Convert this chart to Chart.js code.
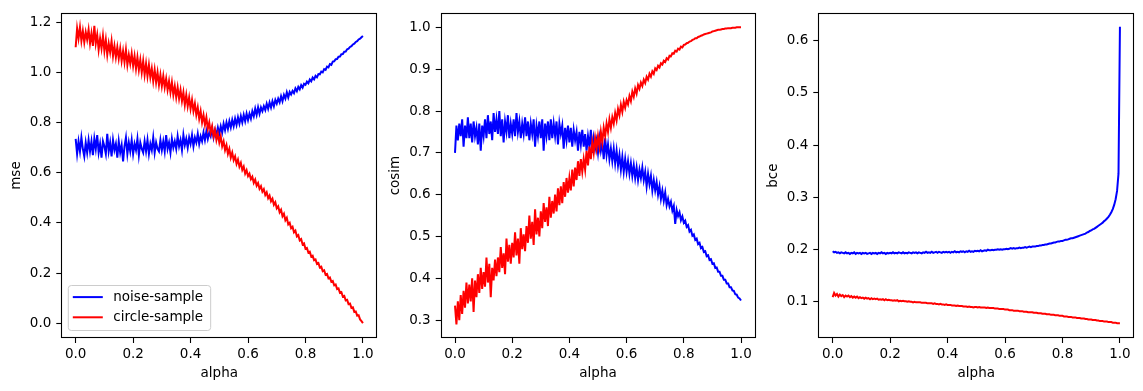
<!DOCTYPE html>
<html><head><meta charset="utf-8">
<script src="https://cdn.jsdelivr.net/npm/chart.js@4"></script>
<style>
body{margin:0;background:#fff;width:1143px;height:391px;overflow:hidden;position:relative}
canvas{position:absolute;top:0}
</style></head><body>
<canvas id="c1" width="385" height="391" style="left:0px"></canvas>
<canvas id="c2" width="375" height="391" style="left:385px"></canvas>
<canvas id="c3" width="383" height="391" style="left:760px"></canvas>
<script>
const alpha = [
0,0.005,0.01,0.015,0.02,0.025,0.03,0.035,0.04,0.045,
0.05,0.055,0.06,0.065,0.07,0.075,0.08,0.085,0.09,0.095,
0.1,0.105,0.11,0.115,0.12,0.125,0.13,0.135,0.14,0.145,
0.15,0.155,0.16,0.165,0.17,0.175,0.18,0.185,0.19,0.195,
0.2,0.205,0.21,0.215,0.22,0.225,0.23,0.235,0.24,0.245,
0.25,0.255,0.26,0.265,0.27,0.275,0.28,0.285,0.29,0.295,
0.3,0.305,0.31,0.315,0.32,0.325,0.33,0.335,0.34,0.345,
0.35,0.355,0.36,0.365,0.37,0.375,0.38,0.385,0.39,0.395,
0.4,0.405,0.41,0.415,0.42,0.425,0.43,0.435,0.44,0.445,
0.45,0.455,0.46,0.465,0.47,0.475,0.48,0.485,0.49,0.495,
0.5,0.505,0.51,0.515,0.52,0.525,0.53,0.535,0.54,0.545,
0.55,0.555,0.56,0.565,0.57,0.575,0.58,0.585,0.59,0.595,
0.6,0.605,0.61,0.615,0.62,0.625,0.63,0.635,0.64,0.645,
0.65,0.655,0.66,0.665,0.67,0.675,0.68,0.685,0.69,0.695,
0.7,0.705,0.71,0.715,0.72,0.725,0.73,0.735,0.74,0.745,
0.75,0.755,0.76,0.765,0.77,0.775,0.78,0.785,0.79,0.795,
0.8,0.805,0.81,0.815,0.82,0.825,0.83,0.835,0.84,0.845,
0.85,0.855,0.86,0.865,0.87,0.875,0.88,0.885,0.89,0.895,
0.9,0.905,0.91,0.915,0.92,0.925,0.93,0.935,0.94,0.945,
0.95,0.955,0.96,0.965,0.97,0.975,0.98,0.985,0.99,0.995,
1];

const seriesLabels = ['noise-sample', 'circle-sample'];
const xTickValues = [0, 0.2, 0.4, 0.6, 0.8, 1.0];
const mseTickValues = [0, 0.2, 0.4, 0.6, 0.8, 1.0, 1.2];
const cosimTickValues = [0.3, 0.4, 0.5, 0.6, 0.7, 0.8, 0.9, 1.0];
const bceTickValues = [0.1, 0.2, 0.3, 0.4, 0.5, 0.6];

// panel 1: mse
const mseNoise = [
0.735,0.675,0.725,0.685,0.74,0.695,0.665,0.72,0.68,0.73,
0.685,0.725,0.67,0.735,0.695,0.75,0.68,0.715,0.66,0.725,
0.705,0.675,0.755,0.685,0.72,0.665,0.73,0.69,0.715,0.66,
0.725,0.68,0.71,0.645,0.705,0.74,0.675,0.72,0.685,0.73,
0.675,0.715,0.69,0.735,0.67,0.72,0.695,0.68,0.725,0.685,
0.73,0.675,0.715,0.69,0.74,0.68,0.72,0.695,0.685,0.73,
0.69,0.725,0.685,0.75,0.695,0.72,0.68,0.735,0.70,0.725,
0.695,0.745,0.705,0.73,0.69,0.75,0.71,0.735,0.70,0.74,
0.715,0.75,0.705,0.74,0.72,0.755,0.715,0.745,0.725,0.76,
0.73,0.765,0.735,0.76,0.745,0.775,0.74,0.77,0.75,0.78,
0.755,0.785,0.76,0.795,0.77,0.80,0.775,0.805,0.78,0.81,
0.785,0.815,0.79,0.82,0.795,0.825,0.80,0.83,0.805,0.835,
0.81,0.835,0.815,0.845,0.825,0.855,0.83,0.86,0.835,0.86,
0.845,0.865,0.85,0.875,0.855,0.88,0.86,0.885,0.865,0.89,
0.875,0.895,0.88,0.905,0.885,0.91,0.895,0.92,0.90,0.922,
0.912,0.926,0.917,0.936,0.925,0.942,0.932,0.949,0.939,0.954,
0.95,0.963,0.956,0.971,0.964,0.979,0.972,0.986,0.98,0.993,
0.992,1.003,1.0,1.013,1.01,1.023,1.02,1.033,1.03,1.043,
1.044,1.052,1.053,1.062,1.063,1.072,1.073,1.082,1.083,1.092,
1.094,1.101,1.104,1.111,1.114,1.121,1.124,1.131,1.134,1.14,
1.145];
const mseCircle = [
1.10,1.175,1.135,1.18,1.125,1.165,1.12,1.16,1.13,1.17,
1.115,1.155,1.105,1.185,1.115,1.15,1.09,1.135,1.095,1.145,
1.085,1.13,1.07,1.115,1.08,1.125,1.065,1.105,1.06,1.10,
1.055,1.095,1.045,1.085,1.04,1.09,1.03,1.07,1.035,1.075,
1.025,1.065,1.015,1.06,1.01,1.05,1.0,1.045,0.99,1.035,
0.985,1.03,0.98,1.015,0.965,1.01,0.96,1.0,0.95,0.99,
0.945,0.985,0.94,0.975,0.93,0.965,0.92,0.96,0.91,0.945,
0.90,0.94,0.895,0.93,0.885,0.92,0.87,0.91,0.865,0.90,
0.855,0.89,0.845,0.875,0.83,0.86,0.815,0.845,0.80,0.83,
0.79,0.82,0.775,0.80,0.76,0.785,0.745,0.77,0.73,0.755,
0.72,0.745,0.705,0.725,0.69,0.71,0.675,0.695,0.66,0.68,
0.65,0.665,0.635,0.652,0.624,0.639,0.611,0.624,0.596,0.61,
0.586,0.596,0.574,0.584,0.559,0.572,0.548,0.559,0.536,0.546,
0.524,0.534,0.511,0.522,0.498,0.509,0.486,0.496,0.472,0.482,
0.458,0.466,0.442,0.452,0.426,0.436,0.41,0.42,0.394,0.40,
0.378,0.384,0.362,0.369,0.346,0.351,0.33,0.335,0.314,0.318,
0.297,0.30,0.282,0.285,0.266,0.269,0.251,0.254,0.236,0.24,
0.222,0.225,0.207,0.211,0.193,0.196,0.179,0.182,0.165,0.168,
0.151,0.154,0.136,0.139,0.121,0.124,0.106,0.109,0.091,0.093,
0.076,0.078,0.061,0.063,0.045,0.047,0.03,0.032,0.015,0.008,
0.0];

// panel 2: cosim
const cosimNoise = [
0.70,0.765,0.73,0.77,0.74,0.78,0.715,0.765,0.735,0.785,
0.735,0.77,0.725,0.775,0.74,0.76,0.72,0.77,0.705,0.765,
0.74,0.78,0.735,0.79,0.745,0.775,0.73,0.795,0.75,0.78,
0.745,0.80,0.74,0.78,0.725,0.775,0.75,0.79,0.735,0.77,
0.745,0.78,0.74,0.795,0.75,0.775,0.735,0.77,0.745,0.785,
0.74,0.775,0.73,0.77,0.745,0.78,0.715,0.765,0.74,0.775,
0.735,0.78,0.705,0.77,0.74,0.775,0.73,0.78,0.735,0.77,
0.74,0.775,0.72,0.77,0.745,0.765,0.71,0.76,0.73,0.765,
0.725,0.76,0.715,0.755,0.73,0.75,0.705,0.75,0.72,0.755,
0.715,0.745,0.705,0.74,0.715,0.755,0.70,0.735,0.71,0.73,
0.70,0.735,0.705,0.725,0.685,0.735,0.695,0.72,0.685,0.71,
0.68,0.71,0.675,0.705,0.67,0.695,0.66,0.69,0.655,0.685,
0.655,0.68,0.65,0.675,0.645,0.67,0.64,0.665,0.635,0.66,
0.64,0.665,0.635,0.655,0.62,0.65,0.625,0.645,0.61,0.635,
0.61,0.63,0.60,0.62,0.59,0.61,0.585,0.605,0.575,0.59,
0.572,0.583,0.562,0.573,0.53,0.563,0.549,0.558,0.539,0.548,
0.533,0.538,0.523,0.527,0.512,0.516,0.502,0.505,0.492,0.495,
0.482,0.485,0.472,0.475,0.463,0.465,0.453,0.455,0.444,0.446,
0.435,0.436,0.425,0.426,0.416,0.416,0.406,0.406,0.397,0.397,
0.388,0.388,0.379,0.379,0.371,0.37,0.362,0.361,0.354,0.352,
0.347];
const cosimCircle = [
0.335,0.29,0.345,0.30,0.36,0.315,0.37,0.33,0.39,0.34,
0.385,0.345,0.40,0.32,0.395,0.355,0.41,0.365,0.425,0.375,
0.415,0.38,0.45,0.39,0.435,0.355,0.425,0.395,0.445,0.405,
0.45,0.415,0.475,0.425,0.46,0.41,0.495,0.44,0.48,0.435,
0.485,0.45,0.51,0.455,0.495,0.435,0.52,0.47,0.505,0.465,
0.525,0.485,0.55,0.495,0.535,0.48,0.565,0.505,0.545,0.50,
0.56,0.52,0.58,0.535,0.57,0.525,0.595,0.545,0.585,0.555,
0.60,0.56,0.615,0.575,0.62,0.58,0.63,0.595,0.64,0.605,
0.64,0.61,0.66,0.62,0.665,0.635,0.68,0.645,0.685,0.655,
0.685,0.66,0.705,0.67,0.715,0.685,0.725,0.70,0.735,0.71,
0.74,0.715,0.75,0.725,0.76,0.74,0.77,0.75,0.78,0.76,
0.785,0.77,0.795,0.778,0.805,0.79,0.815,0.798,0.822,0.808,
0.826,0.816,0.836,0.824,0.846,0.834,0.854,0.842,0.862,0.853,
0.868,0.86,0.875,0.867,0.882,0.875,0.889,0.882,0.895,0.889,
0.902,0.898,0.908,0.904,0.914,0.911,0.92,0.917,0.926,0.923,
0.932,0.931,0.938,0.937,0.944,0.942,0.949,0.947,0.954,0.952,
0.958,0.959,0.962,0.963,0.966,0.967,0.97,0.971,0.974,0.974,
0.977,0.978,0.98,0.981,0.983,0.984,0.985,0.986,0.987,0.988,
0.99,0.991,0.992,0.993,0.994,0.994,0.995,0.996,0.996,0.997,
0.997,0.998,0.998,0.998,0.999,0.999,0.999,1.0,1.0,1.0,
1.0];

// panel 3: bce
const bceNoise = [
0.196,0.194,0.195,0.193,0.194,0.192,0.194,0.193,0.192,0.194,
0.192,0.193,0.191,0.193,0.192,0.194,0.191,0.193,0.192,0.193,
0.191,0.193,0.192,0.193,0.191,0.192,0.193,0.191,0.193,0.192,
0.193,0.191,0.193,0.192,0.194,0.192,0.193,0.191,0.193,0.192,
0.193,0.192,0.194,0.192,0.193,0.192,0.194,0.193,0.192,0.194,
0.192,0.193,0.192,0.194,0.193,0.192,0.194,0.193,0.194,0.192,
0.194,0.193,0.192,0.194,0.193,0.195,0.193,0.194,0.193,0.195,
0.193,0.194,0.195,0.193,0.195,0.194,0.193,0.195,0.194,0.195,
0.194,0.195,0.193,0.195,0.194,0.196,0.194,0.195,0.194,0.196,
0.195,0.196,0.194,0.196,0.195,0.197,0.195,0.196,0.195,0.197,
0.196,0.197,0.196,0.198,0.196,0.197,0.198,0.197,0.199,0.198,
0.198,0.199,0.198,0.199,0.199,0.200,0.199,0.200,0.199,0.200,
0.200,0.201,0.200,0.201,0.202,0.201,0.202,0.201,0.202,0.202,
0.203,0.202,0.203,0.203,0.204,0.203,0.204,0.205,0.204,0.205,
0.205,0.205,0.206,0.206,0.207,0.207,0.208,0.208,0.209,0.209,
0.210,0.211,0.211,0.212,0.213,0.213,0.214,0.215,0.215,0.216,
0.216,0.217,0.218,0.218,0.219,0.220,0.221,0.221,0.222,0.223,
0.224,0.225,0.226,0.227,0.228,0.229,0.230,0.232,0.233,0.235,
0.236,0.238,0.239,0.241,0.243,0.245,0.247,0.249,0.251,0.254,
0.256,0.259,0.262,0.266,0.271,0.277,0.285,0.296,0.312,0.345,
0.627];
const bceCircle = [
0.108,0.116,0.111,0.114,0.109,0.113,0.110,0.112,0.108,0.111,
0.109,0.111,0.108,0.110,0.107,0.109,0.107,0.109,0.106,0.108,
0.106,0.107,0.105,0.107,0.105,0.106,0.104,0.106,0.104,0.105,
0.104,0.105,0.103,0.104,0.103,0.104,0.102,0.104,0.102,0.103,
0.102,0.102,0.101,0.102,0.101,0.102,0.100,0.101,0.100,0.101,
0.100,0.100,0.099,0.100,0.099,0.099,0.098,0.099,0.098,0.098,
0.098,0.098,0.097,0.097,0.097,0.097,0.096,0.096,0.096,0.096,
0.095,0.096,0.095,0.095,0.094,0.095,0.094,0.094,0.093,0.094,
0.093,0.093,0.093,0.092,0.092,0.092,0.091,0.092,0.091,0.091,
0.091,0.090,0.090,0.090,0.089,0.090,0.089,0.089,0.088,0.089,
0.089,0.088,0.089,0.088,0.088,0.088,0.088,0.087,0.088,0.087,
0.087,0.087,0.087,0.086,0.086,0.086,0.085,0.085,0.085,0.085,
0.084,0.084,0.084,0.083,0.083,0.083,0.082,0.082,0.082,0.082,
0.081,0.081,0.081,0.080,0.080,0.080,0.079,0.079,0.079,0.079,
0.078,0.078,0.078,0.077,0.077,0.077,0.076,0.076,0.076,0.075,
0.075,0.075,0.074,0.074,0.074,0.073,0.073,0.073,0.072,0.072,
0.072,0.071,0.071,0.071,0.070,0.070,0.070,0.069,0.069,0.069,
0.068,0.068,0.068,0.067,0.067,0.067,0.066,0.066,0.065,0.065,
0.065,0.064,0.064,0.064,0.063,0.063,0.062,0.062,0.062,0.061,
0.061,0.061,0.060,0.060,0.060,0.059,0.059,0.059,0.058,0.058,
0.058];

const FONT = 'DejaVu Sans';
const FS = 13.5;
Chart.defaults.font.family = FONT;
Chart.defaults.font.size = FS;
Chart.defaults.color = '#000';

const framePlugin = {
  id: 'frame',
  afterDatasetsDraw(chart) {
    const {ctx, chartArea: a} = chart;
    ctx.save();
    ctx.strokeStyle = '#000';
    ctx.lineWidth = 1.1;
    ctx.strokeRect(Math.round(a.left) + 0.5, Math.round(a.top) + 0.5,
                   Math.round(a.right - a.left) - 1, Math.round(a.bottom - a.top) - 1);
    ctx.restore();
  },
  afterDraw(chart) {
    const opt = chart.options.plugins.boxLegend;
    if (!opt || !opt.show) return;
    const {ctx, chartArea: a} = chart;
    ctx.save();
    ctx.font = FS + 'px "' + FONT + '"';
    const ds = chart.data.datasets;
    let tw = 0;
    ds.forEach(d => { tw = Math.max(tw, ctx.measureText(d.label).width); });
    const w = 45 + tw + 7.5, h = 45;
    const x0 = a.left + 7, y0 = a.bottom - 7.5 - h;
    const r = 3;
    ctx.beginPath();
    ctx.moveTo(x0 + r, y0);
    ctx.lineTo(x0 + w - r, y0); ctx.quadraticCurveTo(x0 + w, y0, x0 + w, y0 + r);
    ctx.lineTo(x0 + w, y0 + h - r); ctx.quadraticCurveTo(x0 + w, y0 + h, x0 + w - r, y0 + h);
    ctx.lineTo(x0 + r, y0 + h); ctx.quadraticCurveTo(x0, y0 + h, x0, y0 + h - r);
    ctx.lineTo(x0, y0 + r); ctx.quadraticCurveTo(x0, y0, x0 + r, y0);
    ctx.closePath();
    ctx.fillStyle = 'rgba(255,255,255,0.8)';
    ctx.fill();
    ctx.strokeStyle = '#cccccc';
    ctx.lineWidth = 1;
    ctx.stroke();
    ds.forEach((d, i) => {
      const yy = y0 + 11.6 + i * 20.2;
      ctx.strokeStyle = d.borderColor;
      ctx.lineWidth = 2;
      ctx.beginPath(); ctx.moveTo(x0 + 4.5, yy); ctx.lineTo(x0 + 34.5, yy); ctx.stroke();
      ctx.fillStyle = '#000';
      ctx.textBaseline = 'middle';
      ctx.textAlign = 'left';
      ctx.fillText(d.label, x0 + 45, yy + 0.5);
    });
    ctx.restore();
  }
};

function pts(vals) { return alpha.map((a, i) => ({x: a, y: vals[i]})); }

function makeChart(id, yLabel, noiseVals, circleVals, yMin, yMax, yTicks, yAxisW, rightPad, yTitlePad, showLegend) {
  return new Chart(document.getElementById(id), {
    type: 'line',
    data: {
      datasets: [
        {label: seriesLabels[0], data: pts(noiseVals), borderColor: '#0000ff', backgroundColor: '#0000ff', borderWidth: 2, pointRadius: 0, tension: 0, order: 1},
        {label: seriesLabels[1], data: pts(circleVals), borderColor: '#ff0000', backgroundColor: '#ff0000', borderWidth: 2, pointRadius: 0, tension: 0, order: 0}
      ]
    },
    options: {
      responsive: false,
      animation: false,
      devicePixelRatio: 1,
      parsing: false,
      normalized: true,
      layout: {padding: {left: 0, right: rightPad, top: 11, bottom: 0}},
      plugins: {legend: {display: false}, tooltip: {enabled: false}, boxLegend: {show: showLegend}},
      scales: {
        x: {
          type: 'linear', min: -0.05, max: 1.05, bounds: 'data',
          afterFit: s => { s.height = 53; },
          afterBuildTicks: s => { s.ticks = xTickValues.map(v => ({value: v})); },
          ticks: {autoSkip: false, maxRotation: 0, padding: 3,
                  callback: v => v.toFixed(1), color: '#000', font: {size: FS}},
          grid: {display: true, drawOnChartArea: false, drawTicks: true, tickLength: 5, tickColor: '#000', tickWidth: 1.1},
          border: {display: false},
          title: {display: true, text: 'alpha', color: '#000', font: {size: FS}, padding: {top: 0, bottom: 9.6}}
        },
        y: {
          type: 'linear', min: yMin, max: yMax, bounds: 'data',
          afterFit: s => { s.width = yAxisW; },
          afterBuildTicks: s => { s.ticks = yTicks.map(v => ({value: v})); },
          ticks: {autoSkip: false, padding: 5,
                  callback: v => v.toFixed(1), color: '#000', font: {size: FS}},
          grid: {display: true, drawOnChartArea: false, drawTicks: true, tickLength: 5, tickColor: '#000', tickWidth: 1.1},
          border: {display: false},
          title: {display: true, text: yLabel, color: '#000', font: {size: FS}, padding: {top: yTitlePad, bottom: 0}}
        }
      }
    },
    plugins: [framePlugin]
  });
}

makeChart('c1', 'mse', mseNoise, mseCircle, -0.059, 1.236, mseTickValues, 61.3, 7.7, 8.6, true);
makeChart('c2', 'cosim', cosimNoise, cosimCircle, 0.2575, 1.034, cosimTickValues, 55.7, 4.7, 1.9, false);
makeChart('c3', 'bce', bceNoise, bceCircle, 0.0295, 0.6534, bceTickValues, 58.3, 8.7, 5.2, false);
</script>
</body></html>
